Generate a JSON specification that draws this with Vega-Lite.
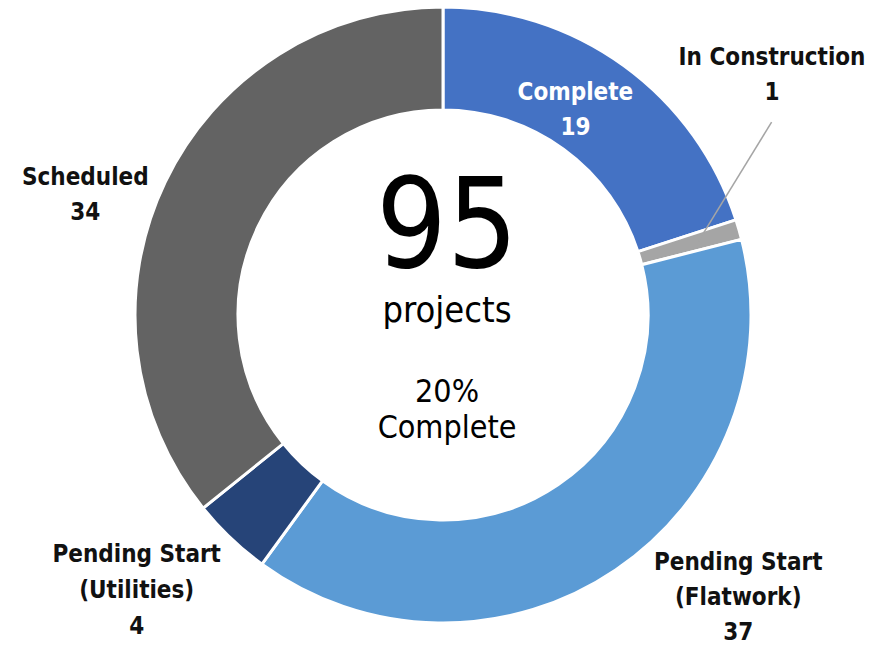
{
  "$schema": "https://vega.github.io/schema/vega-lite/v6.json",
  "width": 852,
  "height": 630,
  "autosize": "none",
  "padding": {"left": 17, "top": 0, "right": 0, "bottom": 16},
  "background": "white",
  "config": {"view": {"stroke": null}},
  "data": {
    "values": [
      {"status": "Complete", "count": 19},
      {"status": "In Construction", "count": 1},
      {"status": "Pending Start (Flatwork)", "count": 37},
      {"status": "Pending Start (Utilities)", "count": 4},
      {"status": "Scheduled", "count": 34}
    ]
  },
  "layer": [
    {
      "mark": {"type": "arc", "innerRadius": 205, "outerRadius": 308, "stroke": "white", "strokeWidth": 3},
      "encoding": {
        "theta": {"field": "count", "type": "quantitative", "stack": true},
        "color": {
          "field": "status",
          "type": "nominal",
          "scale": {
            "domain": ["Complete", "In Construction", "Pending Start (Flatwork)", "Pending Start (Utilities)", "Scheduled"],
            "range": ["#4472C4", "#A5A5A5", "#5B9BD5", "#264478", "#636363"]
          },
          "legend": null
        },
        "order": {"field": "status", "type": "nominal", "sort": "ascending"}
      }
    },
    {
      "transform": [
        {"window": [{"op": "sum", "field": "count", "as": "cum"}], "sort": [{"field": "status"}]},
        {"joinaggregate": [{"op": "sum", "field": "count", "as": "total"}]},
        {"calculate": "2 * PI * (datum.cum - datum.count / 2) / datum.total", "as": "ang"},
        {"calculate": "266 * sin(datum.ang)", "as": "lx1"},
        {"calculate": "266 * cos(datum.ang)", "as": "ly1"},
        {"calculate": "381 * sin(datum.ang - 0.2496)", "as": "lx2"},
        {"calculate": "381 * cos(datum.ang - 0.2496)", "as": "ly2"},
        {"filter": "datum.status == 'In Construction'"}
      ],
      "mark": {"type": "rule", "color": "#A5A5A5", "strokeWidth": 1.5},
      "encoding": {
        "x": {"field": "lx1", "type": "quantitative", "scale": {"domain": [-426, 426], "nice": false, "zero": false}, "axis": null},
        "y": {"field": "ly1", "type": "quantitative", "scale": {"domain": [-315, 315], "nice": false, "zero": false}, "axis": null},
        "x2": {"field": "lx2"},
        "y2": {"field": "ly2"}
      }
    },
    {
      "transform": [
        {"window": [{"op": "sum", "field": "count", "as": "cum"}], "sort": [{"field": "status"}]},
        {"calculate": "datum.cum - datum.count / 2", "as": "mid"},
        {"calculate": "split(replace(datum.status, 'Start ', 'Start|') + '|' + datum.count, '|')", "as": "label"},
        {"filter": "datum.status == 'Complete'"}
      ],
      "mark": {"type": "text", "radius": 244, "dx": -11, "dy": -25, "font": "'Liberation Sans Narrow', 'DejaVu Sans Condensed', 'Liberation Sans', sans-serif", "fontWeight": "bold", "fontSize": 24, "lineHeight": 35, "color": "white", "align": "center", "baseline": "middle"},
      "encoding": {
        "theta": {"field": "mid", "type": "quantitative", "stack": null},
        "text": {"field": "label"}
      }
    },
    {
      "transform": [
        {"window": [{"op": "sum", "field": "count", "as": "cum"}], "sort": [{"field": "status"}]},
        {"calculate": "datum.cum - datum.count / 2", "as": "mid"},
        {"calculate": "split(replace(datum.status, 'Start ', 'Start|') + '|' + datum.count, '|')", "as": "label"},
        {"filter": "datum.status == 'In Construction'"}
      ],
      "mark": {"type": "text", "radius": 330, "dx": 12, "dy": -165, "font": "'Liberation Sans Narrow', 'DejaVu Sans Condensed', 'Liberation Sans', sans-serif", "fontWeight": "bold", "fontSize": 24, "lineHeight": 35, "color": "#111111", "align": "center", "baseline": "middle"},
      "encoding": {
        "theta": {"field": "mid", "type": "quantitative", "stack": null},
        "text": {"field": "label"}
      }
    },
    {
      "transform": [
        {"window": [{"op": "sum", "field": "count", "as": "cum"}], "sort": [{"field": "status"}]},
        {"calculate": "datum.cum - datum.count / 2", "as": "mid"},
        {"calculate": "split(replace(datum.status, 'Start ', 'Start|') + '|' + datum.count, '|')", "as": "label"},
        {"filter": "datum.status == 'Pending Start (Flatwork)'"}
      ],
      "mark": {"type": "text", "radius": 350, "dx": 99, "dy": -42, "font": "'Liberation Sans Narrow', 'DejaVu Sans Condensed', 'Liberation Sans', sans-serif", "fontWeight": "bold", "fontSize": 24, "lineHeight": 35, "color": "#111111", "align": "center", "baseline": "middle"},
      "encoding": {
        "theta": {"field": "mid", "type": "quantitative", "stack": null},
        "text": {"field": "label"}
      }
    },
    {
      "transform": [
        {"window": [{"op": "sum", "field": "count", "as": "cum"}], "sort": [{"field": "status"}]},
        {"calculate": "datum.cum - datum.count / 2", "as": "mid"},
        {"calculate": "split(replace(datum.status, 'Start ', 'Start|') + '|' + datum.count, '|')", "as": "label"},
        {"filter": "datum.status == 'Pending Start (Utilities)'"}
      ],
      "mark": {"type": "text", "radius": 350, "dx": -65, "dy": -14, "font": "'Liberation Sans Narrow', 'DejaVu Sans Condensed', 'Liberation Sans', sans-serif", "fontWeight": "bold", "fontSize": 24, "lineHeight": 36, "color": "#111111", "align": "center", "baseline": "middle"},
      "encoding": {
        "theta": {"field": "mid", "type": "quantitative", "stack": null},
        "text": {"field": "label"}
      }
    },
    {
      "transform": [
        {"window": [{"op": "sum", "field": "count", "as": "cum"}], "sort": [{"field": "status"}]},
        {"calculate": "datum.cum - datum.count / 2", "as": "mid"},
        {"calculate": "split(replace(datum.status, 'Start ', 'Start|') + '|' + datum.count, '|')", "as": "label"},
        {"filter": "datum.status == 'Scheduled'"}
      ],
      "mark": {"type": "text", "radius": 350, "dx": -42, "dy": 14, "font": "'Liberation Sans Narrow', 'DejaVu Sans Condensed', 'Liberation Sans', sans-serif", "fontWeight": "bold", "fontSize": 24, "lineHeight": 35, "color": "#111111", "align": "center", "baseline": "middle"},
      "encoding": {
        "theta": {"field": "mid", "type": "quantitative", "stack": null},
        "text": {"field": "label"}
      }
    },
    {
      "transform": [
        {"aggregate": [{"op": "sum", "field": "count", "as": "total"}]}
      ],
      "mark": {"type": "text", "font": "'Liberation Sans Narrow', 'DejaVu Sans Condensed', 'Liberation Sans', sans-serif", "fontSize": 124, "color": "black", "align": "center", "baseline": "alphabetic", "dx": 4, "dy": -48},
      "encoding": {
        "text": {"field": "total", "type": "quantitative"}
      }
    },
    {
      "transform": [
        {"aggregate": [{"op": "sum", "field": "count", "as": "total"}]}
      ],
      "mark": {"type": "text", "text": "projects", "font": "'Liberation Sans Narrow', 'DejaVu Sans Condensed', 'Liberation Sans', sans-serif", "fontSize": 36, "color": "black", "align": "center", "baseline": "alphabetic", "dx": 4, "dy": 7},
      "encoding": {}
    },
    {
      "transform": [
        {"calculate": "datum.status == 'Complete' ? datum.count : 0", "as": "done"},
        {"aggregate": [{"op": "sum", "field": "count", "as": "total"}, {"op": "sum", "field": "done", "as": "doneTotal"}]},
        {"calculate": "[format(datum.doneTotal / datum.total, '.0%'), 'Complete']", "as": "pctLabel"}
      ],
      "mark": {"type": "text", "font": "'Liberation Sans Narrow', 'DejaVu Sans Condensed', 'Liberation Sans', sans-serif", "fontSize": 32, "lineHeight": 36, "color": "black", "align": "center", "baseline": "alphabetic", "dx": 4, "dy": 87},
      "encoding": {
        "text": {"field": "pctLabel"}
      }
    }
  ]
}
